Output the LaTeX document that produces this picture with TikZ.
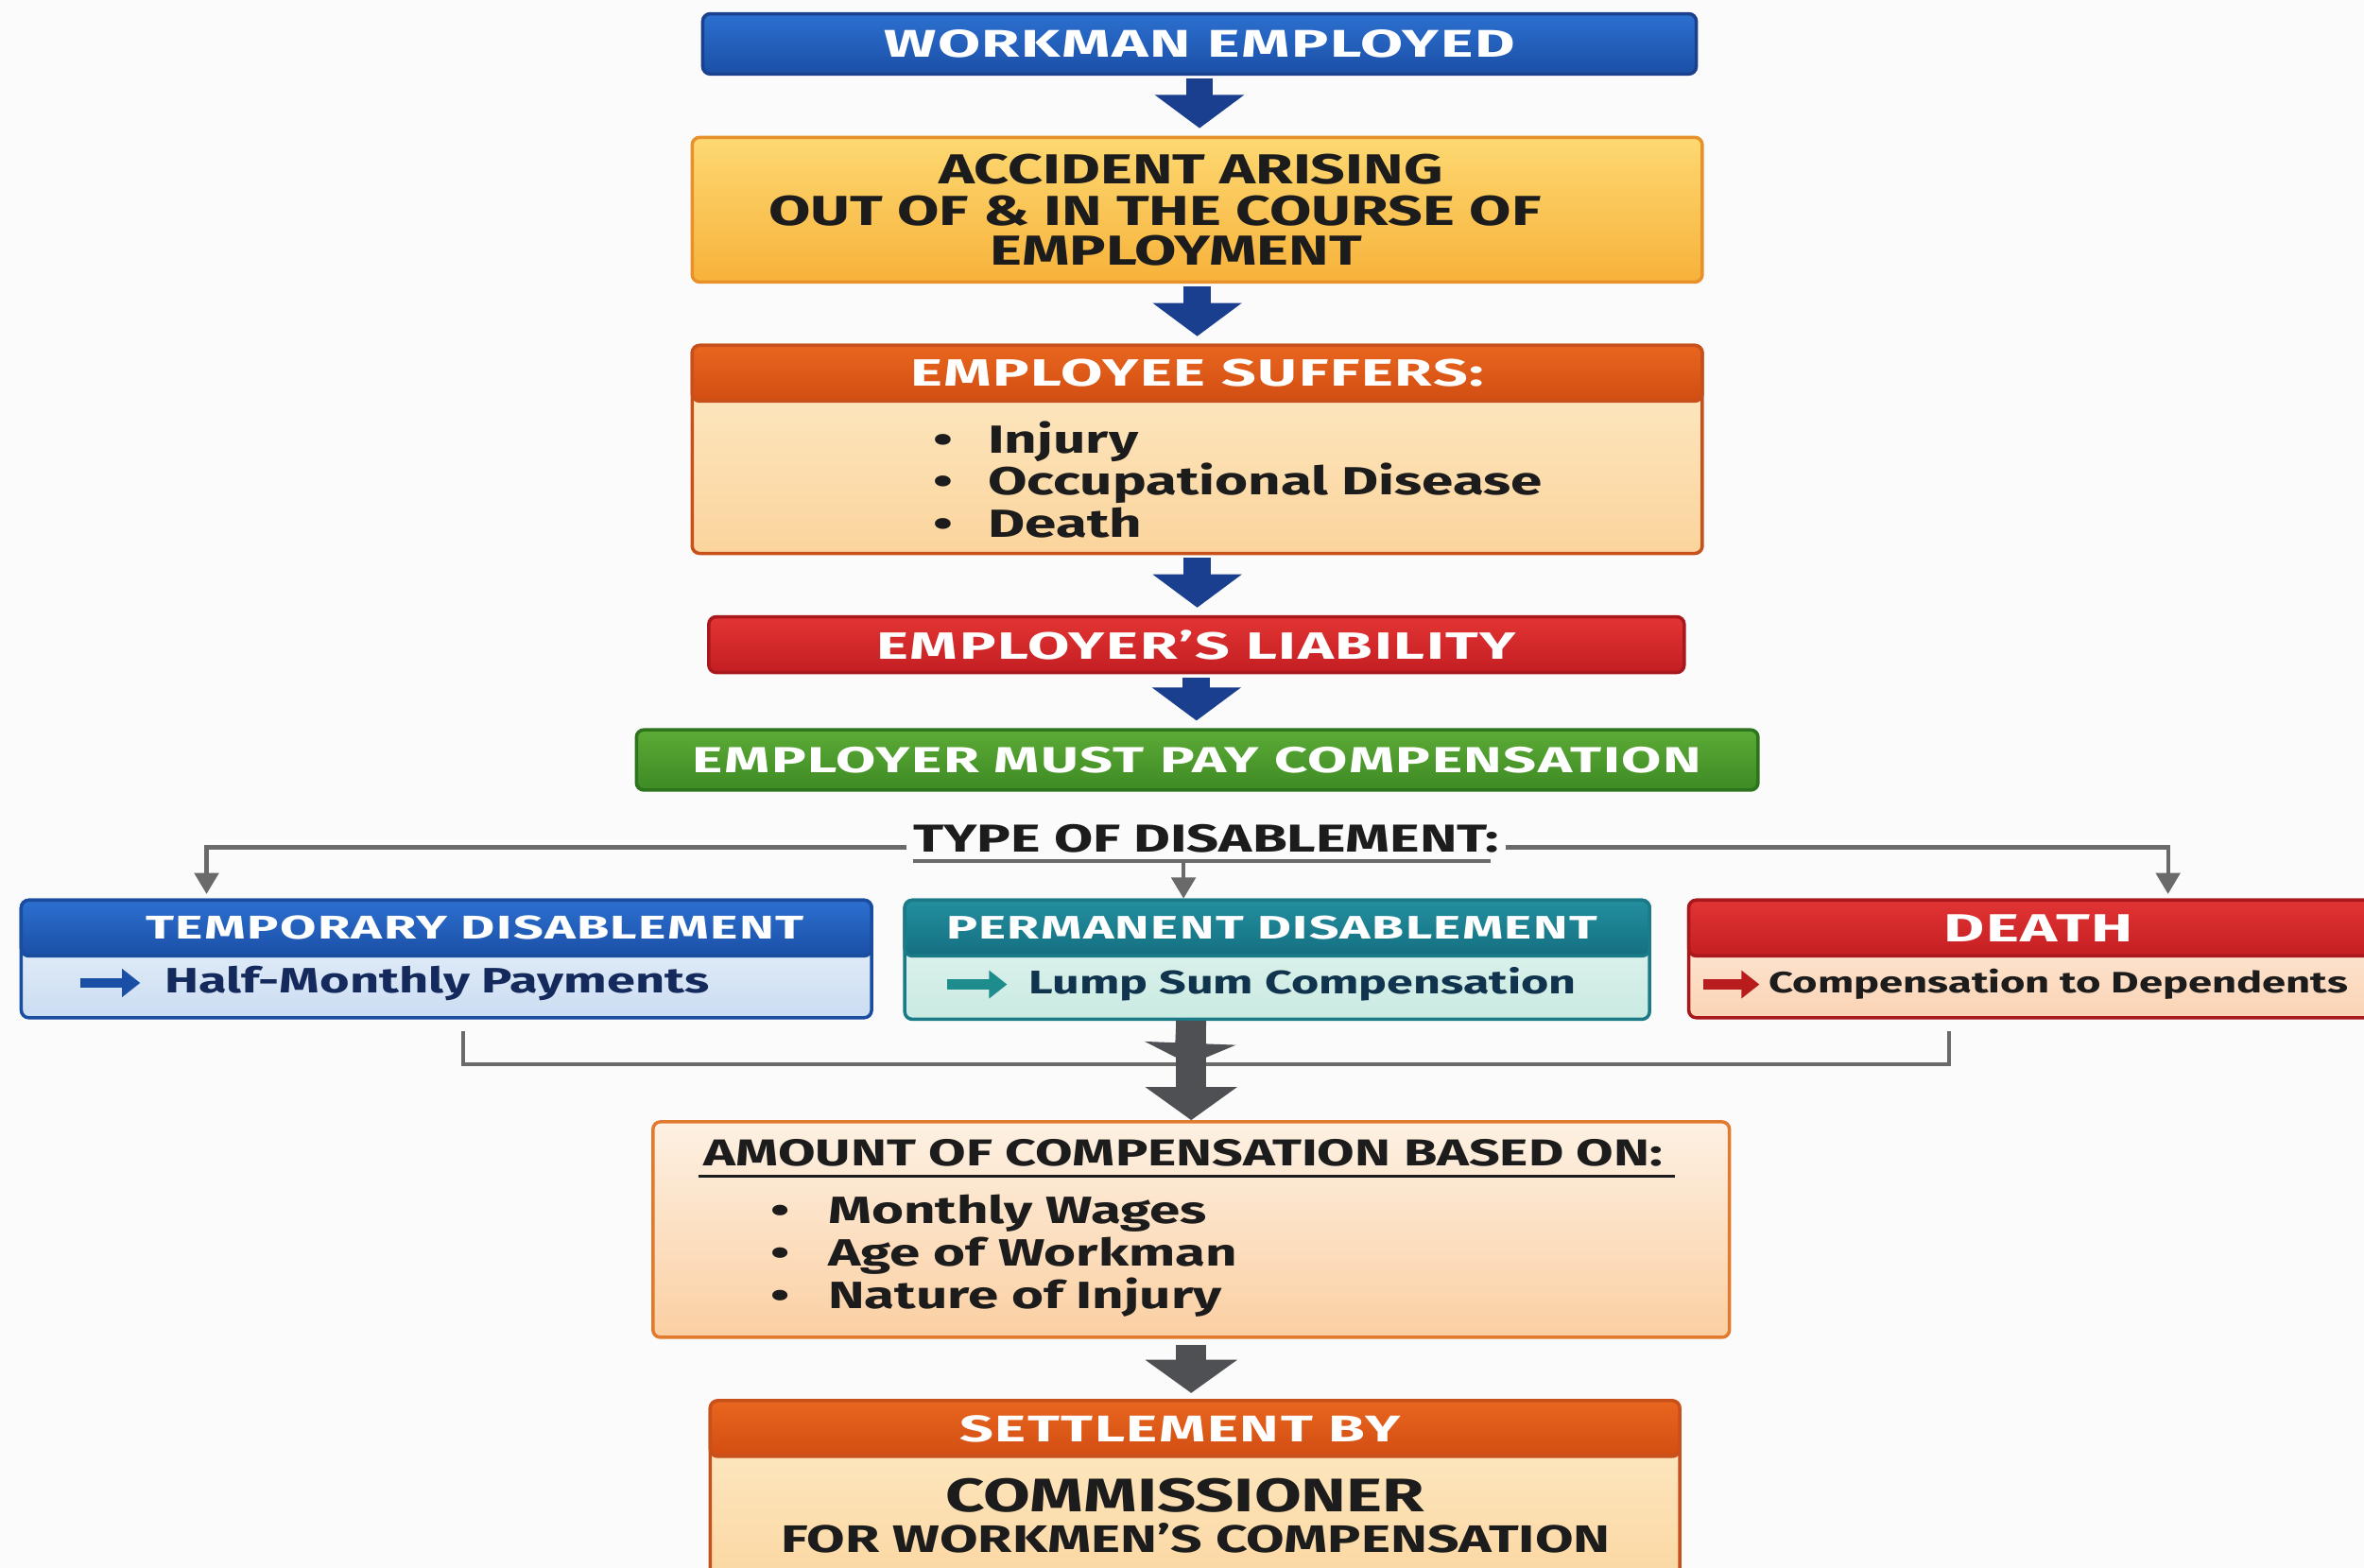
\documentclass[tikz,border=0pt]{standalone}
\usepackage{fontspec}
\setmainfont{Fira Sans}[FakeStretch=1.45]
\newfontfamily\hfont{Fira Sans}[FakeStretch=1.6, LetterSpace=4]
\usetikzlibrary{arrows.meta,calc}
\definecolor{bgc}{HTML}{FBFBFB}
\definecolor{txtd}{HTML}{1C1C1C}
\definecolor{workT}{HTML}{2C70D0}
\definecolor{workB}{HTML}{1B4FA6}
\definecolor{workD}{HTML}{1A408E}
\definecolor{accT}{HTML}{FDD872}
\definecolor{accB}{HTML}{F7B23A}
\definecolor{accD}{HTML}{E8902A}
\definecolor{orT}{HTML}{E8661F}
\definecolor{orB}{HTML}{D24D12}
\definecolor{orD}{HTML}{C8501A}
\definecolor{peT}{HTML}{FDEBC8}
\definecolor{peB}{HTML}{FBD49C}
\definecolor{redT}{HTML}{E23434}
\definecolor{redB}{HTML}{C41E22}
\definecolor{redD}{HTML}{A8181C}
\definecolor{grT}{HTML}{5CAB36}
\definecolor{grB}{HTML}{3D8A24}
\definecolor{grD}{HTML}{2E741C}
\definecolor{tbT}{HTML}{EEF4FB}
\definecolor{tbB}{HTML}{CBDDF2}
\definecolor{tbD}{HTML}{1A4CA0}
\definecolor{tbTxt}{HTML}{142A5C}
\definecolor{pmT}{HTML}{238F9F}
\definecolor{pmB}{HTML}{146F80}
\definecolor{pmD}{HTML}{1A7A88}
\definecolor{pbT}{HTML}{E8F6F2}
\definecolor{pbB}{HTML}{C9EAE2}
\definecolor{pmTxt}{HTML}{10344E}
\definecolor{pmA}{HTML}{1E8C8C}
\definecolor{dbT}{HTML}{FDEFE2}
\definecolor{dbB}{HTML}{FBD3B4}
\definecolor{dA}{HTML}{B81C1C}
\definecolor{amT}{HTML}{FDF1E3}
\definecolor{amB}{HTML}{FBCFA2}
\definecolor{amD}{HTML}{E07A2E}
\definecolor{arrB}{HTML}{1B3F8F}
\definecolor{arrG}{HTML}{4E5054}
\definecolor{lineG}{HTML}{6A6A6A}
\newcommand\fsz[1]{\fontsize{#1}{#1}\selectfont\bfseries}
\newcommand\lsz[2]{\fontsize{#1}{#2}\selectfont\bfseries}
\newcommand\hsz[1]{\hfont\fontsize{#1}{#1}\selectfont\bfseries}
\begin{document}
\begin{tikzpicture}[x=0.5pt,y=-0.5pt,
  bx/.style={draw=#1, line width=1.1pt, rounded corners=2.5pt, inner sep=0pt, anchor=north west},
  wt/.style={text=white},
  tx/.style={inner sep=0pt, text=txtd},
  barrow/.style={draw=arrB, line width=9pt, -{Triangle[width=29pt,length=11pt]}, shorten <=1pt, shorten >=2.5pt},
  garrow/.style={draw=arrG, line width=10pt, -{Triangle[width=30pt,length=11pt]}},
  gline/.style={draw=lineG, line width=1.3pt},
  gtip/.style={-{Triangle[width=8pt,length=7pt]}},
  icon/.style={line width=3.2pt, -{Triangle[width=9pt,length=6pt]}},
]
\useasboundingbox (0,0) rectangle (1568,1040);
\clip (0,0) rectangle (1568,1040);
\fill[bgc] (0,0) rectangle (1568,1040);

% 1 workman employed
\node[bx=workD, top color=workT, bottom color=workB, minimum width=329.5pt, minimum height=20pt,
      wt, font=\hsz{12.8}] (work) at (465,8) {WORKMAN EMPLOYED};

% 2 accident
\node[bx=accD, top color=accT, bottom color=accB, minimum width=335pt, minimum height=48pt] (acc) at (458,90) {};
\node[tx, font=\fsz{13.9}] (acc1) at (790,112) {ACCIDENT ARISING};
\node[tx, font=\fsz{13.9}] (acc2) at (766,140) {OUT OF \& IN THE COURSE OF};
\node[tx, font=\fsz{13.9}] (acc3) at (780,166) {EMPLOYMENT};

% 3 employee suffers
\node[bx=orD, top color=peT, bottom color=peB, minimum width=335pt, minimum height=69pt] (suf) at (458,228) {};
\node[bx=orD, top color=orT, bottom color=orB, minimum width=335pt, minimum height=18.5pt,
      wt, font=\hsz{12.6}] (sufH) at (458,228) {EMPLOYEE SUFFERS:};
\node[tx, anchor=west, align=left, font=\lsz{13}{14}] (sufL) at (619,318)
  {\makebox[18pt][l]{•}Injury\\\makebox[18pt][l]{•}Occupational Disease\\\makebox[18pt][l]{•}Death};

% 4 employer's liability
\node[bx=redD, top color=redT, bottom color=redB, minimum width=323.5pt, minimum height=18.5pt,
      wt, font=\hsz{12.6}] (liab) at (469,408) {EMPLOYER’S LIABILITY};

% 5 must pay
\node[bx=grD, top color=grT, bottom color=grB, minimum width=372pt, minimum height=20pt,
      wt, font=\hsz{12}] (pay) at (421,483) {EMPLOYER MUST PAY COMPENSATION};

% type label
\node[tx, font=\fsz{12.9}] (typ) at (800,556) {TYPE OF DISABLEMENT:};

% 6 temporary
\node[bx=tbD, top color=tbT, bottom color=tbB, minimum width=282pt, minimum height=39pt] (temp) at (13,596) {};
\node[bx=tbD, top color=workT, bottom color=workB, minimum width=282pt, minimum height=18.5pt,
      wt, font=\hsz{10.9}] (tempH) at (13,596) {\hspace*{19pt}TEMPORARY DISABLEMENT};
\node[tx, anchor=west, text=tbTxt, font=\fsz{11.7}] (tempT) at (109,652) {Half-Monthly Payments};
\draw[icon, draw=workB] ($(tempT.west)+(-56,0)$) -- ($(tempT.west)+(-16,0)$);

% 7 permanent
\node[bx=pmD, top color=pbT, bottom color=pbB, minimum width=247pt, minimum height=39.5pt] (perm) at (599,596) {};
\node[bx=pmD, top color=pmT, bottom color=pmB, minimum width=247pt, minimum height=18.5pt,
      wt, font=\hsz{10.8}] (permH) at (599,596) {\hspace*{-3.5pt}PERMANENT DISABLEMENT};
\node[tx, anchor=west, text=pmTxt, font=\fsz{10.85}] (permT) at (682,653) {Lump Sum Compensation};
\draw[icon, draw=pmA] ($(permT.west)+(-54,0)$) -- ($(permT.west)+(-14,0)$);

% 8 death
\node[bx=redD, top color=dbT, bottom color=dbB, minimum width=240pt, minimum height=39pt] (death) at (1119,596) {};
\node[bx=redD, top color=redT, bottom color=redB, minimum width=240pt, minimum height=18.5pt,
      wt, font=\hsz{13}] (deathH) at (1119,596) {\hspace*{-8pt}DEATH};
\node[tx, anchor=west, font=\fsz{9.8}] (deathT) at (1173,653) {Compensation to Dependents};
\draw[icon, draw=dA] ($(deathT.west)+(-43,0)$) -- ($(deathT.west)+(-6,0)$);

% type of disablement connectors
\coordinate (tj) at (785,571);
\draw[gline, gtip] ($(typ.west)+(-4,6)$) -| ($(temp.north west)+(124,-3)$);
\draw[gline, gtip] ($(typ.east)+(4,6)$) -| ($(death.north west)+(319,-3)$);
\draw[gline] ($(typ.west)+(0,15)$) -- ($(typ.east)+(-6,15)$);
\draw[gline, gtip] (tj) -- (tj |- perm.north) ;

% 9 amount
\node[bx=amD, top color=amT, bottom color=amB, minimum width=357pt, minimum height=71.5pt] (amt) at (432,743) {};
\node[tx, font=\fsz{12.4}] (amtH) at (785,765) {AMOUNT OF COMPENSATION BASED ON:};
\draw[line width=1pt, draw=txtd] (463,780) -- (1111,780);
\node[tx, anchor=west, align=left, font=\lsz{12.6}{14}] (amtL) at (511,833)
  {\makebox[19pt][l]{•}Monthly Wages\\\makebox[19pt][l]{•}Age of Workman\\\makebox[19pt][l]{•}Nature of Injury};

% bottom bracket + big arrow
\coordinate (bj) at (789,706);
\draw[gline] ($(temp.south west)+(294,8)$) |- (bj) -| ($(death.south west)+(174,8)$);
\draw[garrow] (perm.south -| amt.north) -- (amt.north);
\draw[garrow, -{Triangle[width=30pt,length=7pt]}] (perm.south -| amt.north) -- (bj);

% 10 settlement
\node[bx=orD, top color=peT, bottom color=peB, minimum width=321.5pt, minimum height=70pt] (set) at (470,928) {};
\node[bx=orD, top color=orT, bottom color=orB, minimum width=321.5pt, minimum height=18.5pt,
      wt, font=\hsz{12.3}] (setH) at (470,928) {\hspace*{-10pt}SETTLEMENT BY};
\node[tx, font=\fsz{15.6}] (set1) at (786,992) {COMMISSIONER};
\node[tx, font=\fsz{12.7}] (set2) at (793,1020) {FOR WORKMEN’S COMPENSATION};

% main flow arrows
\draw[barrow] (work.south) -- (work.south |- acc.north);
\draw[barrow] (acc.south) -- (acc.south |- suf.north);
\draw[barrow] (suf.south) -- (suf.south |- liab.north);
\draw[barrow] (liab.south) -- (liab.south |- pay.north);
\draw[garrow, shorten <=2pt, shorten >=2pt] (amt.south) -- (amt.south |- set.north);
\end{tikzpicture}
\end{document}
